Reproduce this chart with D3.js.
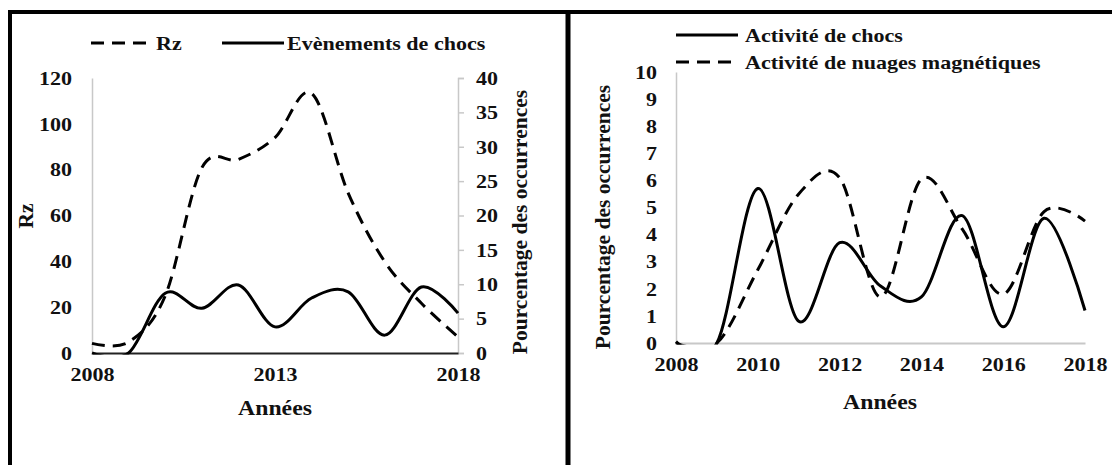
<!DOCTYPE html>
<html><head><meta charset="utf-8">
<script src="https://cdn.jsdelivr.net/npm/d3@7"></script>
<style>
body{margin:0;background:#fff;}
</style></head>
<body><svg id="c" width="1112" height="465"></svg>
<script>
// ---- data ----
const years = [2008,2009,2010,2011,2012,2013,2014,2015,2016,2017,2018];
const rz = [4.2,4.8,24.9,80.8,84.5,94.0,113.3,69.8,39.8,21.7,7.0];
const chocsEvents = [0,0,8.7,6.5,9.9,3.8,8.0,8.9,2.6,9.6,5.8];
const activiteChocs = [0.05,0,5.7,0.8,3.7,2.1,1.7,4.7,0.6,4.6,1.2];
const activiteNuages = [0,0,2.7,5.5,6.1,1.7,6.05,4.2,1.8,4.85,4.5];
const leftRzTicks = [0,20,40,60,80,100,120];
const leftPctTicks = [0,5,10,15,20,25,30,35,40];
const leftYearTicks = [2008,2013,2018];
const rightPctTicks = [0,1,2,3,4,5,6,7,8,9,10];
const rightYearTicks = [2008,2010,2012,2014,2016,2018];

const FONT = '"Liberation Serif","Times New Roman",serif';
const svg = d3.select("#c").attr("font-family",FONT);
const FS = 19.5;
const STRETCH = 1.13;
const dash = "13,8";
const curve = d3.curveCardinal.tension(0);

const stretchList = [];
function styleText(sel, size, stretch){
  sel.style("font-family",FONT).style("font-weight","bold").style("font-size",size+"px").attr("fill","#111");
  if (stretch !== false) sel.each(function(){ stretchList.push(this); });
  return sel;
}

const defs = svg.append("defs");
defs.append("clipPath").attr("id","clipL").append("rect").attr("x",80).attr("y",20).attr("width",400).attr("height",334.5);
defs.append("clipPath").attr("id","clipR").append("rect").attr("x",660).attr("y",20).attr("width",440).attr("height",324.5);

// panel borders
svg.append("line").attr("x1",8).attr("x2",1112).attr("y1",12).attr("y2",12).attr("stroke","#000").attr("stroke-width",4);
svg.append("line").attr("x1",10).attr("x2",10).attr("y1",10).attr("y2",465).attr("stroke","#000").attr("stroke-width",4);
svg.append("line").attr("x1",568).attr("x2",568).attr("y1",10).attr("y2",465).attr("stroke","#000").attr("stroke-width",5);

// ---------- LEFT PANEL ----------
{
  const x = d3.scaleLinear().domain([2008,2018]).range([92,458]);
  const yL = d3.scaleLinear().domain([0,120]).range([353,78]);
  const yR = d3.scaleLinear().domain([0,40]).range([353,78]);
  const g = svg.append("g");
  const ax = g.append("g").attr("transform","translate(92,0)")
    .call(d3.axisLeft(yL).tickValues(leftRzTicks).tickSize(0).tickPadding(20));
  ax.attr("font-family",FONT);
  ax.select(".domain").attr("stroke","#c8c8c8").attr("stroke-width",1.5);
  styleText(ax.selectAll("text"),FS);
  const ar = g.append("g").attr("transform","translate(458,0)")
    .call(d3.axisRight(yR).tickValues(leftPctTicks).tickSize(6).tickSizeOuter(6).tickPadding(12));
  ar.attr("font-family",FONT);
  ar.select(".domain").attr("stroke","#c8c8c8").attr("stroke-width",1.5);
  ar.selectAll(".tick line").attr("stroke","#c8c8c8").attr("stroke-width",1.5);
  styleText(ar.selectAll("text"),FS);
  const ab = g.append("g").attr("transform","translate(0,353)")
    .call(d3.axisBottom(x).tickValues(leftYearTicks).tickFormat(d3.format("d")).tickSize(0).tickPadding(14));
  ab.attr("font-family",FONT);
  ab.select(".domain").attr("stroke","#222").attr("stroke-width",2);
  styleText(ab.selectAll("text"),FS);

  g.append("path").datum(years.map((d,i)=>[d,rz[i]]))
    .attr("clip-path","url(#clipL)")
    .attr("d",d3.line().x(d=>x(d[0])).y(d=>yL(d[1])).curve(curve))
    .attr("fill","none").attr("stroke","#000").attr("stroke-width",3).attr("stroke-dasharray",dash);
  g.append("path").datum(years.map((d,i)=>[d,chocsEvents[i]]))
    .attr("clip-path","url(#clipL)")
    .attr("d",d3.line().x(d=>x(d[0])).y(d=>yR(d[1])).curve(curve))
    .attr("fill","none").attr("stroke","#000").attr("stroke-width",3);

  styleText(g.append("text").attr("x",275).attr("y",415).attr("text-anchor","middle").text("Années"),21);
  styleText(g.append("text").attr("transform","translate(33,216) rotate(-90)").attr("text-anchor","middle").text("Rz"),21.5,false);
  styleText(g.append("text").attr("transform","translate(527,222) rotate(-90)").attr("text-anchor","middle").text("Pourcentage des occurrences"),21.5,false);

  g.append("line").attr("x1",91).attr("x2",153).attr("y1",43).attr("y2",43).attr("stroke","#000").attr("stroke-width",3).attr("stroke-dasharray",dash);
  styleText(g.append("text").attr("x",156).attr("y",50).text("Rz"),FS);
  g.append("line").attr("x1",222).attr("x2",284).attr("y1",43).attr("y2",43).attr("stroke","#000").attr("stroke-width",3);
  styleText(g.append("text").attr("x",287).attr("y",50).text("Evènements de chocs"),FS);
}

// ---------- RIGHT PANEL ----------
{
  const x = d3.scaleLinear().domain([2008,2018]).range([676,1085]);
  const y = d3.scaleLinear().domain([0,10]).range([343,72]);
  const g = svg.append("g");
  const ay = g.append("g").attr("transform","translate(676,0)")
    .call(d3.axisLeft(y).tickValues(rightPctTicks).tickSize(0).tickPadding(19));
  ay.attr("font-family",FONT);
  ay.select(".domain").attr("stroke","#c8c8c8").attr("stroke-width",1.5);
  styleText(ay.selectAll("text"),FS);
  const ab = g.append("g").attr("transform","translate(0,343)")
    .call(d3.axisBottom(x).tickValues(rightYearTicks).tickFormat(d3.format("d")).tickSize(0).tickPadding(14));
  ab.attr("font-family",FONT);
  ab.select(".domain").attr("stroke","#c8c8c8").attr("stroke-width",2);
  styleText(ab.selectAll("text"),FS);

  g.append("path").datum(years.map((d,i)=>[d,activiteNuages[i]]))
    .attr("clip-path","url(#clipR)")
    .attr("d",d3.line().x(d=>x(d[0])).y(d=>y(d[1])).curve(curve))
    .attr("fill","none").attr("stroke","#000").attr("stroke-width",3).attr("stroke-dasharray",dash);
  g.append("path").datum(years.map((d,i)=>[d,activiteChocs[i]]))
    .attr("clip-path","url(#clipR)")
    .attr("d",d3.line().x(d=>x(d[0])).y(d=>y(d[1])).curve(curve))
    .attr("fill","none").attr("stroke","#000").attr("stroke-width",3);

  styleText(g.append("text").attr("x",880).attr("y",409).attr("text-anchor","middle").text("Années"),21);
  styleText(g.append("text").attr("transform","translate(610,217) rotate(-90)").attr("text-anchor","middle").text("Pourcentage des occurrences"),21.5,false);

  g.append("line").attr("x1",676).attr("x2",738).attr("y1",35).attr("y2",35).attr("stroke","#000").attr("stroke-width",3);
  styleText(g.append("text").attr("x",745).attr("y",42).text("Activité de chocs"),FS);
  g.append("line").attr("x1",676).attr("x2",738).attr("y1",62).attr("y2",62).attr("stroke","#000").attr("stroke-width",3).attr("stroke-dasharray",dash);
  styleText(g.append("text").attr("x",745).attr("y",69).text("Activité de nuages magnétiques"),FS);
}

// widen horizontal texts slightly (the reference glyphs are wider than Liberation Serif)
stretchList.forEach(el => {
  const w = el.getComputedTextLength();
  el.setAttribute("textLength", (w*STRETCH).toFixed(1));
  el.setAttribute("lengthAdjust","spacingAndGlyphs");
});
</script></body></html>
